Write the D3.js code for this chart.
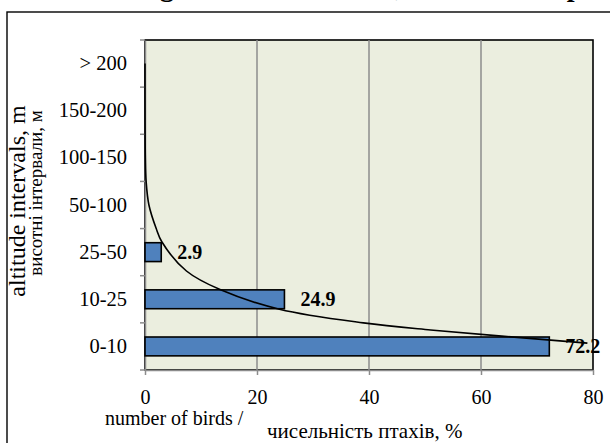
<!DOCTYPE html>
<html>
<head>
<meta charset="utf-8">
<script src="https://cdn.jsdelivr.net/npm/d3@7"></script>
<style>
  html, body { margin: 0; padding: 0; background: #fff; }
  svg { display: block; }
  text { font-family: "Liberation Serif", "Times New Roman", serif; fill: #000; }
</style>
</head>
<body>
<svg id="chart" width="610" height="443"></svg>
<script>
// Altitude intervals, bottom to top
const categories = ["0-10", "10-25", "25-50", "50-100", "100-150", "150-200", "> 200"];
// Share of birds in each interval, %
const shares = [72.2, 24.9, 2.9, 0, 0, 0, 0];
// Trend curve: position along the category axis (1 = "0-10") and value, %
const trendPos =    [1.07, 1.35, 1.5, 1.79, 2.2,  2.6, 3.22, 3.5, 4,   4.5, 5,    6,    7];
const trendValues = [79,   51,   39,  24,   13.5, 7.4, 3.0,  2.0, 0.7, 0.2, 0.06, 0.01, 0];
const xTicks = [0, 20, 40, 60, 80];

const svg = d3.select("#chart");
const plot = { left: 145, right: 593, top: 40, bottom: 370 };

// outer frame
svg.append("rect")
  .attr("x", 7).attr("y", 12).attr("width", 640).attr("height", 460)
  .attr("fill", "none").attr("stroke", "#000").attr("stroke-width", 1.4);

// title (runs off the top edge)
svg.append("text")
  .attr("x", 93).attr("y", -4.5)
  .attr("font-size", 28).attr("font-weight", "bold")
  .text("Passage altitudes of birds, % of all the species");

const x = d3.scaleLinear().domain([0, 80]).range([plot.left, plot.right]);
const y = d3.scaleBand().domain(categories.slice().reverse())
  .range([plot.top, plot.bottom]).paddingInner(0.6).paddingOuter(0.3);
const yPos = d3.scaleLinear().domain([0.5, categories.length + 0.5]).range([plot.bottom, plot.top]);

// plot area
svg.append("rect")
  .attr("x", plot.left).attr("y", plot.top)
  .attr("width", plot.right - plot.left).attr("height", plot.bottom - plot.top)
  .attr("fill", "#EBEEDF").attr("stroke", "#000").attr("stroke-width", 1.6);

// vertical gridlines
svg.append("g").selectAll("line")
  .data(xTicks.filter(t => t > 0 && t < 80))
  .join("line")
  .attr("x1", d => x(d)).attr("x2", d => x(d))
  .attr("y1", plot.top).attr("y2", plot.bottom)
  .attr("stroke", "#8C8C8C").attr("stroke-width", 1.5);

// x axis
const xAxis = svg.append("g")
  .attr("transform", `translate(0,${plot.bottom})`)
  .call(d3.axisBottom(x).tickValues(xTicks).tickSize(5).tickPadding(15).tickSizeOuter(0));
xAxis.select(".domain").attr("stroke", "#8C8C8C").attr("stroke-width", 1.5);
xAxis.selectAll(".tick line").attr("stroke", "#8C8C8C").attr("stroke-width", 1.5);
xAxis.selectAll(".tick text")
  .attr("font-family", "Liberation Serif, serif").attr("font-size", 20).attr("fill", "#000");

// y axis with tick marks between categories
const yAxis = svg.append("g")
  .attr("transform", `translate(${plot.left},0)`)
  .call(d3.axisLeft(y).tickSize(0).tickPadding(18));
yAxis.select(".domain").attr("stroke", "#8C8C8C").attr("stroke-width", 1.5);
yAxis.selectAll(".tick text")
  .attr("font-family", "Liberation Serif, serif").attr("font-size", 20.5).attr("fill", "#000");
svg.append("g").selectAll("line")
  .data(d3.range(0.5, categories.length + 1, 1))
  .join("line")
  .attr("x1", plot.left - 5).attr("x2", plot.left)
  .attr("y1", d => yPos(d)).attr("y2", d => yPos(d))
  .attr("stroke", "#8C8C8C").attr("stroke-width", 1.5);

// bars
const barData = categories.map((c, i) => ({ cat: c, v: shares[i] })).filter(d => d.v > 0);
svg.append("g").selectAll("rect")
  .data(barData)
  .join("rect")
  .attr("x", x(0)).attr("y", d => y(d.cat))
  .attr("width", d => x(d.v) - x(0)).attr("height", y.bandwidth())
  .attr("fill", "#4F81BD").attr("stroke", "#000").attr("stroke-width", 1.6);

// trend curve
const trend = trendPos.map((p, i) => ({ p, v: trendValues[i] })).reverse();
svg.append("path")
  .datum(trend)
  .attr("fill", "none").attr("stroke", "#000").attr("stroke-width", 1.6)
  .attr("d", d3.line().x(d => x(d.v)).y(d => yPos(d.p)).curve(d3.curveCatmullRom.alpha(0.5)));

// value labels
svg.append("g").selectAll("text")
  .data(barData)
  .join("text")
  .attr("x", d => x(d.v) + 16)
  .attr("y", d => y(d.cat) + y.bandwidth() / 2)
  .attr("dy", "0.35em")
  .attr("font-size", 20).attr("font-weight", "bold")
  .text(d => d.v.toFixed(1));

// axis titles
svg.append("text")
  .attr("transform", "translate(25,201) rotate(-90)")
  .attr("text-anchor", "middle").attr("font-size", 24)
  .text("altitude intervals, m");
svg.append("text")
  .attr("transform", "translate(42,193) rotate(-90)")
  .attr("text-anchor", "middle").attr("font-size", 19)
  .text("висотні інтервали, м");

svg.append("text")
  .attr("x", 105).attr("y", 425).attr("font-size", 20)
  .text("number of birds /");
svg.append("text")
  .attr("x", 267).attr("y", 438).attr("font-size", 21)
  .text("чисельність птахів, %");
</script>
</body>
</html>
